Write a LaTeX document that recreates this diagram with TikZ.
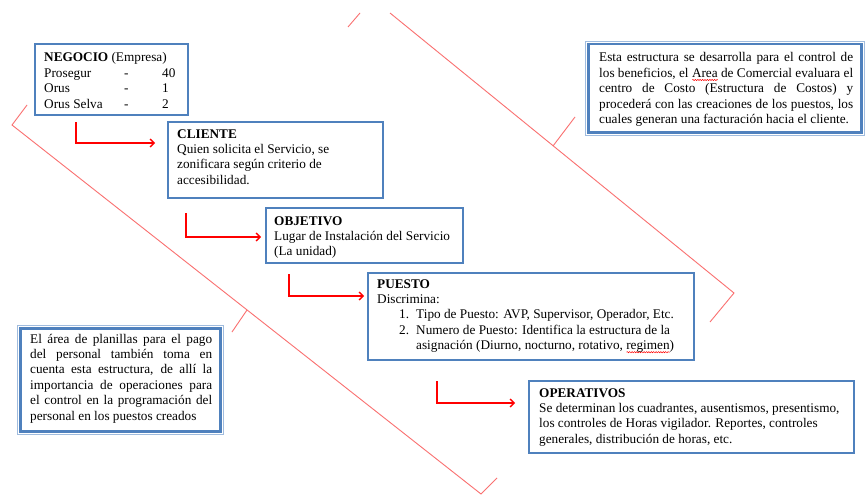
\documentclass[tikz,border=0pt]{standalone}
\usepackage{fontspec}
\setmainfont{Liberation Serif}
\usetikzlibrary{arrows.meta,calc,decorations.pathmorphing}
\definecolor{boxblue}{RGB}{79,129,189}
\definecolor{paleblue}{RGB}{160,188,222}
\definecolor{linkred}{RGB}{255,0,0}
\definecolor{bracketred}{RGB}{250,112,112}
\setlength\parindent{0pt}
% wavy red underline under a word
\newcommand\spellmark[1]{\leavevmode\setbox0=\hbox{#1}\rlap{\tikz[baseline=0pt]\draw[red,line width=0.5pt,decorate,decoration={snake,amplitude=0.6pt,segment length=2.4pt}] (0pt,-2.6pt) -- (\the\wd0,-2.6pt);}\box0\relax}
% one stretched line of a justified paragraph
\newcommand\jline[1]{\makebox[\linewidth][s]{#1}\\}
\begin{document}
\begin{tikzpicture}[x=1pt,y=-1pt,
  box/.style={draw=boxblue,line width=2pt,anchor=north west,inner sep=0pt},
  notebox/.style={draw=paleblue,line width=0.9pt,anchor=north west,inner sep=0pt},
  noteinner/.style={draw=boxblue,line width=2.6pt},
  boxtext/.style={anchor=base west,inner sep=0pt,font=\fontsize{13.25}{15.4}\selectfont},
  link/.style={draw=linkred,line width=1.4pt,-{Straight Barb[length=4pt,width=8pt,line width=1.3pt]}},
  bracket/.style={draw=bracketred,line width=0.9pt}]
\useasboundingbox[fill=white] (0,0) rectangle (865,495);

% blue boxes of the chain
\node[box,minimum width=153pt,minimum height=71pt] (neg) at (34,43) {};
\node[box,minimum width=215pt,minimum height=76pt] (cli) at (167,121) {};
\node[box,minimum width=197pt,minimum height=55pt] (obj) at (265,207) {};
\node[box,minimum width=326pt,minimum height=87pt] (pue) at (367,272) {};
\node[box,minimum width=325pt,minimum height=72pt] (ops) at (528,380) {};

\node[boxtext] (negtxt) at ($(neg.north west)+(10,19)$) {\begin{minipage}[t]{140pt}
\textbf{NEGOCIO} (Empresa)\\
\makebox[80pt][l]{Prosegur}\makebox[38pt][l]{-}40\\
\makebox[80pt][l]{Orus}\makebox[38pt][l]{-}1\\
\makebox[80pt][l]{Orus Selva}\makebox[38pt][l]{-}2
\end{minipage}};

\node[boxtext] (clitxt) at ($(cli.north west)+(10,17)$) {\begin{minipage}[t]{200pt}
\textbf{CLIENTE}\\
Quien solicita el Servicio, se\\
zonificara según criterio de\\
accesibilidad.
\end{minipage}};

\node[boxtext] (objtxt) at ($(obj.north west)+(9,18)$) {\begin{minipage}[t]{190pt}
\textbf{OBJETIVO}\\
Lugar de Instalación del Servicio\\
(La unidad)
\end{minipage}};

\node[boxtext] (puetxt) at ($(pue.north west)+(10,16)$) {\begin{minipage}[t]{315pt}
\textbf{PUESTO}\\
Discrimina:\\
\hspace*{22pt}\makebox[17pt][l]{1.}Tipo de Puesto: AVP, Supervisor, Operador, Etc.\\
\hspace*{22pt}\makebox[17pt][l]{2.}Numero de Puesto: Identifica la estructura de la\\
\hspace*{39pt}asignación (Diurno, nocturno, rotativo, \spellmark{regimen})
\end{minipage}};

\node[boxtext] (opstxt) at ($(ops.north west)+(11,17)$) {\begin{minipage}[t]{315pt}
\textbf{OPERATIVOS}\\
Se determinan los cuadrantes, ausentismos, presentismo,\\
los controles de Horas vigilador. Reportes, controles\\
generales, distribución de horas, etc.
\end{minipage}};

% side notes with a double frame
\node[notebox,minimum width=279pt,minimum height=94pt] (rn) at (585,41) {};
\draw[noteinner] ($(rn.north west)+(3.2,3.2)$) rectangle ($(rn.south east)+(-3.2,-3.2)$);
\node[boxtext] (rntxt) at ($(rn.north west)+(14,21)$) {\begin{minipage}[t]{254pt}
\jline{Esta estructura se desarrolla para el control de}
\jline{los beneficios, el \spellmark{Area} de Comercial evaluara el}
\jline{centro de Costo (Estructura de Costos) y}
\jline{procederá con las creaciones de los puestos, los}
cuales generan una facturación hacia el cliente.
\end{minipage}};

\node[notebox,minimum width=206pt,minimum height=109pt] (ln) at (17,325) {};
\draw[noteinner] ($(ln.north west)+(3.2,3.2)$) rectangle ($(ln.south east)+(-3.2,-3.2)$);
\node[boxtext] (lntxt) at ($(ln.north west)+(13,18)$) {\begin{minipage}[t]{182pt}
\jline{El área de planillas para el pago}
\jline{del personal también toma en}
\jline{cuenta esta estructura, de allí la}
\jline{importancia de operaciones para}
\jline{el control en la programación del}
personal en los puestos creados
\end{minipage}};

% red elbow arrows between the boxes
\draw[link] ([xshift=42pt,yshift=-6pt]neg.south west) |- ($(cli.north west)+(-12,22)$);
\draw[link] ([xshift=19pt,yshift=-14pt]cli.south west) |- ($(obj.north west)+(-4,30)$);
\draw[link] ([xshift=24pt,yshift=-10pt]obj.south west) |- ($(pue.north west)+(-3,24)$);
\draw[link] ([xshift=70pt,yshift=-20pt]pue.south west) |- ($(ops.north west)+(-13,23)$);

% thin red brackets around the chain
\draw[bracket] (348,27) -- (360,13);
\draw[bracket] (390,13) -- (734,293) -- (710,322);
\draw[bracket] (553,146) -- (575,117);
\draw[bracket] (27,105) -- (12,125) -- (481,494) -- (497,478);
\draw[bracket] (247,310) -- (232,332);
\end{tikzpicture}
\end{document}
